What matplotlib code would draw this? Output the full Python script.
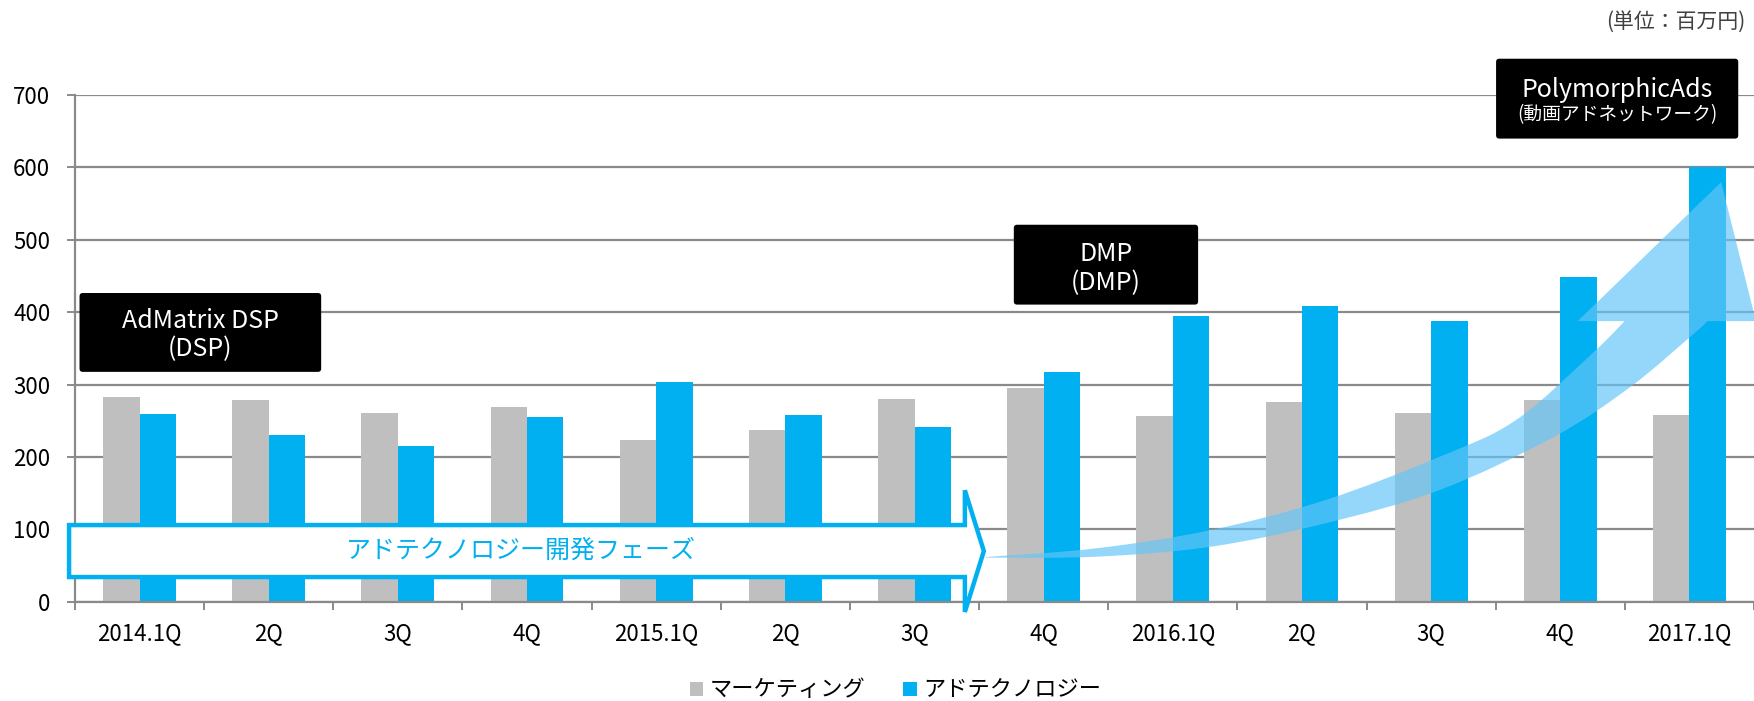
import numpy as np
import matplotlib
matplotlib.use("Agg")
import matplotlib.pyplot as plt
from matplotlib.patches import Polygon, PathPatch, FancyBboxPatch, Patch
from matplotlib.path import Path

plt.rcParams["font.family"] = ["Noto Sans CJK JP", "DejaVu Sans"]

# data (million yen)
quarters = ["2014.1Q", "2Q", "3Q", "4Q", "2015.1Q", "2Q", "3Q", "4Q",
            "2016.1Q", "2Q", "3Q", "4Q", "2017.1Q"]
marketing = [283, 279, 261, 269, 224, 237, 280, 295, 257, 276, 261, 279, 258]
adtech = [260, 230, 215, 255, 304, 258, 241, 318, 395, 408, 388, 448, 600]
series_names = ["マーケティング", "アドテクノロジー"]
milestones = ["AdMatrix DSP", "DMP", "PolymorphicAds"]
milestone_sub = ["(DSP)", "(DMP)", "(動画アドネットワーク)"]
phase_label = "アドテクノロジー開発フェーズ"
unit_label = "(単位：百万円)"

GRAY = "#BFBFBF"
BLUE = "#00B0F0"
GRID = "#8A8A8A"

fig = plt.figure(figsize=(17.54, 7.01), dpi=100)
ax = fig.add_axes([0.04276, 0.14151, 0.95724, 0.72297])

x = np.arange(len(quarters))
w = 0.282
ax.bar(x - w / 2, marketing, w, color=GRAY, zorder=2)
ax.bar(x + w / 2, adtech, w, color=BLUE, zorder=2)

ax.set_xlim(-0.5, 12.455)
ax.set_ylim(0, 700)
ax.set_yticks(range(0, 701, 100))
ax.yaxis.grid(True, color=GRID, lw=1.6, zorder=0)
ax.set_axisbelow(True)
for s in ["top", "right"]:
    ax.spines[s].set_visible(False)
for s in ["left", "bottom"]:
    ax.spines[s].set_color(GRID)
    ax.spines[s].set_linewidth(1.6)
ax.tick_params(axis="y", length=5.8, width=1.4, color=GRID, pad=12, labelsize=16)
ax.set_xticks(x)
ax.set_xticklabels(quarters)
ax.set_xticks(np.arange(-0.5, 13, 1), minor=True)
ax.tick_params(axis="x", which="major", length=0, pad=15, labelsize=16)
ax.tick_params(axis="x", which="minor", length=5.4, width=1.4, color=GRID)

# flat phase arrow
flat = Polygon([(-0.546, 106), (6.390, 106), (6.390, 154), (6.537, 70),
                (6.390, -14), (6.390, 34.2), (-0.546, 34.2)],
               closed=True, fc="white", ec=BLUE, lw=3.2, joinstyle="miter",
               clip_on=False, zorder=3)
ax.add_patch(flat)
ax.text(2.95, 70, phase_label, color=BLUE, fontsize=18, ha="center",
        va="center", zorder=4)


# curved growth arrow
def smooth(pts):
    p = np.asarray(pts, float)
    p = np.vstack([p[0], p, p[-1]])
    out = []
    for i in range(1, len(p) - 2):
        out += [p[i] + (p[i + 1] - p[i - 1]) / 6,
                p[i + 1] - (p[i + 2] - p[i]) / 6, p[i + 1]]
    return out


upper = [(6.552, 61.9), (7.409, 73.9), (8.295, 99.1), (9.181, 140.5),
         (10.066, 200.3), (10.657, 251.0), (11.248, 343.1), (11.498, 387.7)]
lower = [(6.552, 61.0), (7.409, 62.3), (8.295, 76.1), (9.181, 108.4),
         (10.066, 154.4), (10.951, 227.9), (11.544, 297.0), (12.039, 371.1),
         (12.139, 387.7)]
head = [(11.135, 387.7), (12.246, 579.6), (12.515, 387.7)]
verts = [upper[0]] + smooth(upper) + head + [lower[-1]] + smooth(lower[::-1]) + [upper[0]]
codes = ([Path.MOVETO] + [Path.CURVE4] * 3 * (len(upper) - 1) + [Path.LINETO] * 4
         + [Path.CURVE4] * 3 * (len(lower) - 1) + [Path.CLOSEPOLY])
ax.add_patch(PathPatch(Path(verts, codes), fc="#63C5F8", ec="none", alpha=0.68,
                       clip_on=False, zorder=4))

# milestone boxes
boxes = [(-0.465, 317.6, 1.871, 108.9), (6.769, 410.5, 1.427, 110.3),
         (10.503, 639.8, 1.875, 110.3)]
line1_y = [377.6, 470.5, 696.8]
line2_y = [339.6, 430.5, 673.5]
for (bx, by, bw, bh), t1, t2, y1, y2 in zip(boxes, milestones, milestone_sub,
                                           line1_y, line2_y):
    ax.add_patch(FancyBboxPatch((bx, by), bw, bh,
                                boxstyle="round,pad=0,rounding_size=0.025",
                                mutation_aspect=180, fc="black", ec="none",
                                clip_on=False, zorder=5))
    cx = bx + bw / 2
    ax.text(cx, y1, t1, color="white", fontsize=18, ha="center",
            va="baseline", zorder=6)
    small = 13.5 if len(t2) > 6 else 18
    ax.text(cx, y2, t2, color="white", fontsize=small, ha="center",
            va="baseline" if small == 18 else "center", zorder=6)

fig.text(0.9949, 0.9686, unit_label, fontsize=15, color="#404040",
         ha="right", va="center")

handles = [Patch(fc=GRAY, ec="none"), Patch(fc=BLUE, ec="none")]
fig.legend(handles, series_names, loc="center", bbox_to_anchor=(0.5106, 0.0157),
           ncol=2, frameon=False, fontsize=16, handlelength=0.6,
           handleheight=0.6, handletextpad=0.3, columnspacing=1.7)

fig.savefig("out.png", dpi=100)
